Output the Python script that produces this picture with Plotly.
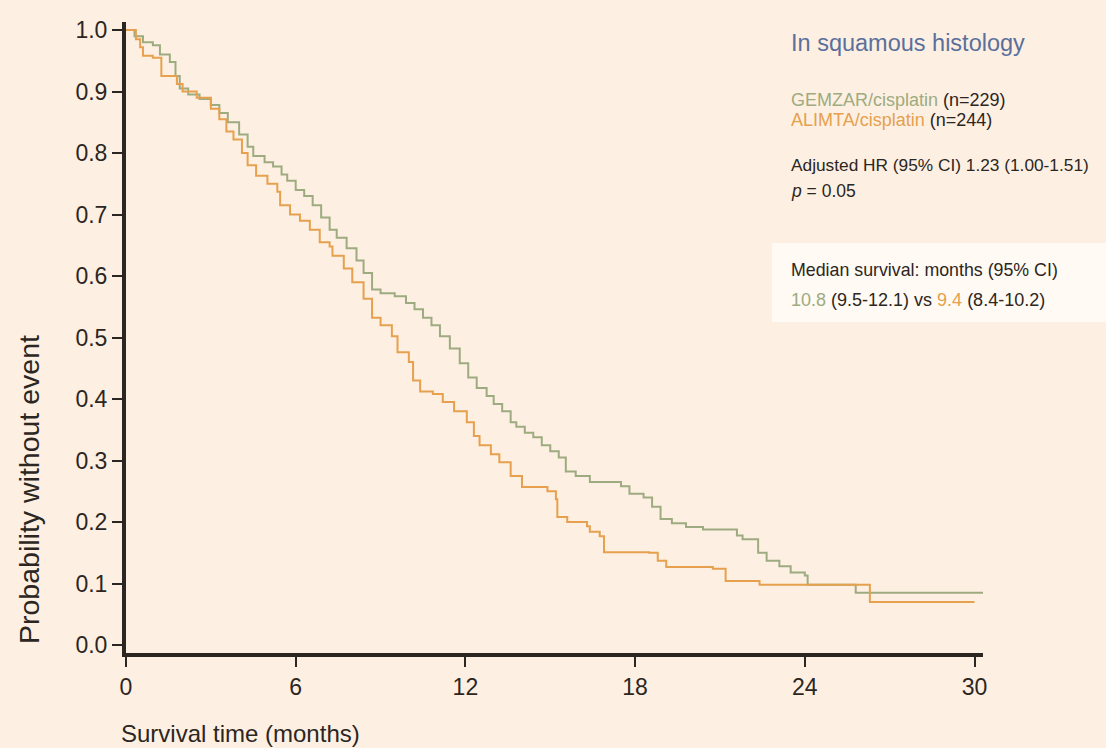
import plotly.graph_objects as go

# ---- data ----
gem_t = [0, 0.3, 0.6, 0.95, 1.2, 1.55, 1.75, 1.9, 2.2, 2.6, 3.0, 3.3, 3.6, 4.0, 4.3, 4.5, 4.9, 5.2,
         5.5, 5.7, 6.0, 6.3, 6.6, 6.9, 7.2, 7.45, 7.8, 8.15, 8.4, 8.7, 9.0, 9.5, 9.9, 10.2, 10.5,
         10.8, 11.1, 11.45, 11.8, 12.1, 12.4, 12.75, 13.0, 13.3, 13.6, 13.8, 14.1, 14.4, 14.7,
         15.0, 15.3, 15.55, 15.9, 16.4, 17.5, 17.8, 18.3, 18.6, 18.9, 19.3, 19.8, 20.4, 21.6,
         21.8, 22.35, 22.65, 23.1, 23.5, 24.0, 24.1, 25.8, 30.5]
gem_s = [1.0, 0.99, 0.98, 0.975, 0.96, 0.948, 0.925, 0.905, 0.895, 0.888, 0.878, 0.865, 0.85,
         0.83, 0.81, 0.795, 0.785, 0.778, 0.765, 0.755, 0.74, 0.73, 0.715, 0.695, 0.675, 0.662,
         0.645, 0.625, 0.605, 0.578, 0.572, 0.567, 0.556, 0.546, 0.532, 0.52, 0.502, 0.482,
         0.458, 0.435, 0.418, 0.405, 0.392, 0.38, 0.362, 0.355, 0.345, 0.338, 0.325, 0.315,
         0.305, 0.282, 0.275, 0.265, 0.258, 0.246, 0.24, 0.225, 0.205, 0.198, 0.192, 0.188,
         0.178, 0.172, 0.15, 0.137, 0.128, 0.118, 0.113, 0.098, 0.085, 0.085]

ali_t = [0, 0.35, 0.5, 0.6, 0.95, 1.25, 1.8, 2.0, 2.5, 3.0, 3.3, 3.55, 3.8, 4.1, 4.3, 4.6, 5.0,
         5.35, 5.45, 5.8, 6.15, 6.5, 6.85, 7.2, 7.3, 7.7, 8.0, 8.4, 8.7, 9.0, 9.4, 9.6, 10.0,
         10.15, 10.4, 10.85, 11.2, 11.6, 12.05, 12.3, 12.5, 12.9, 13.2, 13.6, 14.0, 14.9, 15.2,
         15.25, 15.6, 16.3, 16.4, 16.75, 16.9, 18.5, 18.8, 19.1, 20.75, 21.2, 22.4, 26.3, 30.0]
ali_s = [1.0, 0.985, 0.972, 0.958, 0.955, 0.925, 0.912, 0.9, 0.89, 0.872, 0.855, 0.835, 0.822,
         0.8, 0.78, 0.763, 0.75, 0.737, 0.715, 0.7, 0.69, 0.675, 0.655, 0.648, 0.633, 0.612,
         0.59, 0.563, 0.532, 0.52, 0.502, 0.476, 0.46, 0.43, 0.412, 0.408, 0.395, 0.38, 0.362,
         0.34, 0.325, 0.31, 0.297, 0.275, 0.257, 0.25, 0.237, 0.208, 0.2, 0.193, 0.184, 0.177,
         0.151, 0.15, 0.137, 0.127, 0.124, 0.104, 0.098, 0.07, 0.07]

x_ticks = [0, 6, 12, 18, 24, 30]
y_ticks = [0.0, 0.1, 0.2, 0.3, 0.4, 0.5, 0.6, 0.7, 0.8, 0.9, 1.0]
y_ticklabels = [f"{v:.1f}" for v in y_ticks]

GEM_COLOR = "#9eab80"
ALI_COLOR = "#e6a04e"
BG = "#fdf0e2"
DARK = "#2c2622"
FONT = "Liberation Sans"

W, H = 1106, 748
L, R, T, B = 126, 983, 22, 653   # plot area in pixels


def px(x):
    return (x - L) / (R - L)


def py(y):
    return (B - y) / (B - T)


fig = go.Figure()
fig.add_trace(go.Scatter(x=gem_t, y=gem_s, mode="lines", name="GEMZAR/cisplatin",
                         line=dict(shape="hv", color=GEM_COLOR, width=2)))
fig.add_trace(go.Scatter(x=ali_t, y=ali_s, mode="lines", name="ALIMTA/cisplatin",
                         line=dict(shape="hv", color=ALI_COLOR, width=2)))

fig.update_layout(
    width=W, height=H,
    margin=dict(l=L, r=W - R, t=T, b=H - B, pad=0),
    paper_bgcolor=BG, plot_bgcolor=BG,
    showlegend=False,
    font=dict(family=FONT, color=DARK, size=23),
)
fig.update_xaxes(
    range=[0, 30.3], tickvals=x_ticks, ticktext=[str(v) for v in x_ticks],
    showgrid=False, zeroline=False, showline=True, linewidth=4, linecolor=DARK,
    ticks="outside", ticklen=10, tickwidth=2, tickcolor=DARK,
    tickfont=dict(size=23, color=DARK, family=FONT),
)
fig.update_yaxes(
    range=[-0.013, 1.013], tickvals=y_ticks, ticktext=y_ticklabels,
    showgrid=False, zeroline=False, showline=True, linewidth=4, linecolor=DARK,
    ticks="outside", ticklen=10, tickwidth=2, tickcolor=DARK,
    tickfont=dict(size=23, color=DARK, family=FONT),
)

# white box behind median survival
fig.add_shape(type="rect", xref="paper", yref="paper",
              x0=px(772), x1=px(1106), y0=py(322), y1=py(243),
              fillcolor="#fffaf4", line=dict(width=0), layer="below")

ann = []


def add_text(text, x, y, size, color=DARK, xanchor="left", textangle=0):
    ann.append(dict(text=text, x=px(x), y=py(y), xref="paper", yref="paper",
                    xanchor=xanchor, yanchor="middle", showarrow=False,
                    textangle=textangle,
                    font=dict(size=size, color=color, family=FONT)))


add_text("In squamous histology", 789, 43, 23.5, color="#5b6f9c")
add_text(f"<span style='color:{GEM_COLOR}'>GEMZAR/cisplatin</span> (n=229)", 789, 100, 18)
add_text(f"<span style='color:{ALI_COLOR}'>ALIMTA/cisplatin</span> (n=244)", 789, 120, 18)
add_text("Adjusted HR (95% CI) 1.23 (1.00-1.51)", 789, 165, 17.3)
add_text("<i>p</i> = 0.05", 789, 191, 17.5)
add_text("Median survival: months (95% CI)", 789, 270, 17.8)
add_text(f"<span style='color:{GEM_COLOR}'>10.8</span> (9.5-12.1) vs "
         f"<span style='color:{ALI_COLOR}'>9.4</span> (8.4-10.2)", 789, 300, 18)
add_text("Survival time (months)", 119, 733, 24)
add_text("Probability without event", 29, 490, 28.5, xanchor="center", textangle=-90)

fig.update_layout(annotations=ann)

fig.write_html("out.html")
